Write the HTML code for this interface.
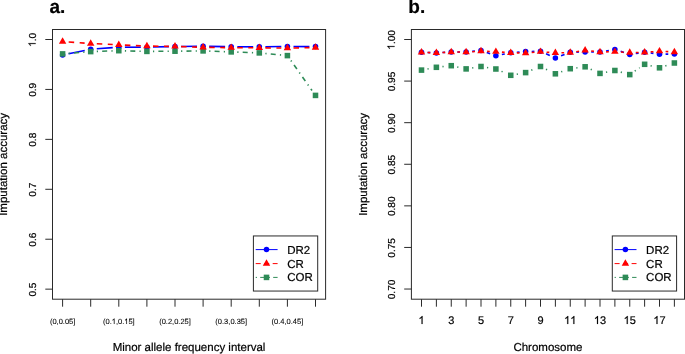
<!DOCTYPE html>
<html><head><meta charset="utf-8"><title>Imputation accuracy</title>
<style>
html,body{margin:0;padding:0;background:#fff;}
body{width:685px;height:354px;overflow:hidden;font-family:"Liberation Sans",sans-serif;}
svg{display:block;}
text{filter:grayscale(1);text-rendering:geometricPrecision;stroke:#000;stroke-width:0.2px;}
.h1{fill-opacity:0;stroke-opacity:0;}
.g1{fill:#000;stroke:#000;stroke-width:0.2px;}
text.sm{stroke-width:0.08px;}
.sm1{stroke-width:0.08px;}
</style></head><body>
<svg width="685" height="354" viewBox="0 0 685 354">
<rect width="685" height="354" fill="#fff"/>
<text x="49.4" y="12.9" font-size="19" font-weight="bold" font-family="'Liberation Sans', sans-serif">a.</text>
<line x1="68.57" y1="53.77" x2="84.73" y2="50.43" stroke="#0000FF" stroke-width="1.6"/>
<line x1="96.78" y1="48.77" x2="112.72" y2="47.63" stroke="#0000FF" stroke-width="1.6"/>
<line x1="124.9" y1="47.2" x2="140.8" y2="47.2" stroke="#0000FF" stroke-width="1.6"/>
<line x1="153" y1="47.05" x2="168.9" y2="46.65" stroke="#0000FF" stroke-width="1.6"/>
<line x1="181.1" y1="46.43" x2="197" y2="46.27" stroke="#0000FF" stroke-width="1.6"/>
<line x1="209.2" y1="46.33" x2="225.1" y2="46.67" stroke="#0000FF" stroke-width="1.6"/>
<line x1="237.3" y1="46.8" x2="253.2" y2="46.8" stroke="#0000FF" stroke-width="1.6"/>
<line x1="265.4" y1="46.73" x2="281.3" y2="46.57" stroke="#0000FF" stroke-width="1.6"/>
<line x1="293.5" y1="46.52" x2="309.4" y2="46.58" stroke="#0000FF" stroke-width="1.6"/>
<circle cx="62.6" cy="55" r="2.77" fill="#0000FF"/>
<circle cx="90.7" cy="49.2" r="2.77" fill="#0000FF"/>
<circle cx="118.8" cy="47.2" r="2.77" fill="#0000FF"/>
<circle cx="146.9" cy="47.2" r="2.77" fill="#0000FF"/>
<circle cx="175" cy="46.5" r="2.77" fill="#0000FF"/>
<circle cx="203.1" cy="46.2" r="2.77" fill="#0000FF"/>
<circle cx="231.2" cy="46.8" r="2.77" fill="#0000FF"/>
<circle cx="259.3" cy="46.8" r="2.77" fill="#0000FF"/>
<circle cx="287.4" cy="46.5" r="2.77" fill="#0000FF"/>
<circle cx="315.5" cy="46.6" r="2.77" fill="#0000FF"/>
<line x1="68.68" y1="53.4" x2="84.62" y2="52.1" stroke="#2E8B57" stroke-width="1.6" stroke-dasharray="1.2 4.2 5.0 4.2"/>
<line x1="96.8" y1="51.4" x2="112.7" y2="50.9" stroke="#2E8B57" stroke-width="1.6" stroke-dasharray="1.2 4.2 5.0 4.2"/>
<line x1="124.9" y1="50.85" x2="140.8" y2="51.25" stroke="#2E8B57" stroke-width="1.6" stroke-dasharray="1.2 4.2 5.0 4.2"/>
<line x1="153" y1="51.36" x2="168.9" y2="51.24" stroke="#2E8B57" stroke-width="1.6" stroke-dasharray="1.2 4.2 5.0 4.2"/>
<line x1="181.1" y1="51.13" x2="197" y2="50.97" stroke="#2E8B57" stroke-width="1.6" stroke-dasharray="1.2 4.2 5.0 4.2"/>
<line x1="209.2" y1="51.12" x2="225.1" y2="51.68" stroke="#2E8B57" stroke-width="1.6" stroke-dasharray="1.2 4.2 5.0 4.2"/>
<line x1="237.3" y1="52.12" x2="253.2" y2="52.68" stroke="#2E8B57" stroke-width="1.6" stroke-dasharray="1.2 4.2 5.0 4.2"/>
<line x1="265.37" y1="53.48" x2="281.33" y2="55.02" stroke="#2E8B57" stroke-width="1.6" stroke-dasharray="1.2 4.2 5.0 4.2"/>
<line x1="290.92" y1="60.58" x2="311.98" y2="90.42" stroke="#2E8B57" stroke-width="1.6" stroke-dasharray="1.2 4.2 5.0 4.2"/>
<rect x="59.83" y="51.13" width="5.54" height="5.54" fill="#2E8B57"/>
<rect x="87.93" y="48.83" width="5.54" height="5.54" fill="#2E8B57"/>
<rect x="116.03" y="47.93" width="5.54" height="5.54" fill="#2E8B57"/>
<rect x="144.13" y="48.63" width="5.54" height="5.54" fill="#2E8B57"/>
<rect x="172.23" y="48.43" width="5.54" height="5.54" fill="#2E8B57"/>
<rect x="200.33" y="48.13" width="5.54" height="5.54" fill="#2E8B57"/>
<rect x="228.43" y="49.13" width="5.54" height="5.54" fill="#2E8B57"/>
<rect x="256.53" y="50.13" width="5.54" height="5.54" fill="#2E8B57"/>
<rect x="284.63" y="52.83" width="5.54" height="5.54" fill="#2E8B57"/>
<rect x="312.73" y="92.63" width="5.54" height="5.54" fill="#2E8B57"/>
<line x1="68.68" y1="41.98" x2="84.62" y2="43.12" stroke="#FF0000" stroke-width="1.6" stroke-dasharray="5.5 5.5"/>
<line x1="96.79" y1="43.82" x2="112.71" y2="44.53" stroke="#FF0000" stroke-width="1.6" stroke-dasharray="5.5 5.5"/>
<line x1="124.89" y1="45.08" x2="140.81" y2="45.82" stroke="#FF0000" stroke-width="1.6" stroke-dasharray="5.5 5.5"/>
<line x1="153" y1="46.17" x2="168.9" y2="46.33" stroke="#FF0000" stroke-width="1.6" stroke-dasharray="5.5 5.5"/>
<line x1="181.1" y1="46.6" x2="197" y2="47.1" stroke="#FF0000" stroke-width="1.6" stroke-dasharray="5.5 5.5"/>
<line x1="209.2" y1="47.39" x2="225.1" y2="47.61" stroke="#FF0000" stroke-width="1.6" stroke-dasharray="5.5 5.5"/>
<line x1="237.3" y1="47.72" x2="253.2" y2="47.78" stroke="#FF0000" stroke-width="1.6" stroke-dasharray="5.5 5.5"/>
<line x1="265.4" y1="47.87" x2="281.3" y2="48.03" stroke="#FF0000" stroke-width="1.6" stroke-dasharray="5.5 5.5"/>
<line x1="293.5" y1="47.97" x2="309.4" y2="47.63" stroke="#FF0000" stroke-width="1.6" stroke-dasharray="5.5 5.5"/>
<polygon points="62.6,37.24 66.33,43.7 58.87,43.7" fill="#FF0000"/>
<polygon points="90.7,39.24 94.43,45.7 86.97,45.7" fill="#FF0000"/>
<polygon points="118.8,40.49 122.53,46.95 115.07,46.95" fill="#FF0000"/>
<polygon points="146.9,41.79 150.63,48.25 143.17,48.25" fill="#FF0000"/>
<polygon points="175,42.09 178.73,48.55 171.27,48.55" fill="#FF0000"/>
<polygon points="203.1,42.99 206.83,49.45 199.37,49.45" fill="#FF0000"/>
<polygon points="231.2,43.39 234.93,49.85 227.47,49.85" fill="#FF0000"/>
<polygon points="259.3,43.49 263.03,49.95 255.57,49.95" fill="#FF0000"/>
<polygon points="287.4,43.79 291.13,50.25 283.67,50.25" fill="#FF0000"/>
<polygon points="315.5,43.19 319.23,49.65 311.77,49.65" fill="#FF0000"/>
<rect x="52.5" y="29.5" width="273.1" height="269.7" fill="none" stroke="#2a2a2a" stroke-width="1"/>
<line x1="45.3" y1="39.5" x2="52.5" y2="39.5" stroke="#2a2a2a" stroke-width="1"/>
<g transform="translate(35.6,39.9) rotate(-90)"><text x="-7.02" y="0" font-size="10.1" font-family="'Liberation Sans', sans-serif"><tspan class="h1">0</tspan>.0</text>
<path class="g1" d="M-3.26,0 L-4.15,0 L-4.15,-5.66 Q-4.47,-5.35 -4.99,-5.05 Q-5.51,-4.74 -5.93,-4.58 L-5.93,-5.44 Q-5.17,-5.8 -4.63,-6.28 Q-4.1,-6.75 -3.86,-7.23 L-3.26,-7.23Z"/>
</g>
<line x1="45.3" y1="89.43" x2="52.5" y2="89.43" stroke="#2a2a2a" stroke-width="1"/>
<g transform="translate(35.6,89.83) rotate(-90)"><text x="-7.02" y="0" font-size="10.1" font-family="'Liberation Sans', sans-serif">0.9</text>
</g>
<line x1="45.3" y1="139.36" x2="52.5" y2="139.36" stroke="#2a2a2a" stroke-width="1"/>
<g transform="translate(35.6,139.76) rotate(-90)"><text x="-7.02" y="0" font-size="10.1" font-family="'Liberation Sans', sans-serif">0.8</text>
</g>
<line x1="45.3" y1="189.29" x2="52.5" y2="189.29" stroke="#2a2a2a" stroke-width="1"/>
<g transform="translate(35.6,189.69) rotate(-90)"><text x="-7.02" y="0" font-size="10.1" font-family="'Liberation Sans', sans-serif">0.7</text>
</g>
<line x1="45.3" y1="239.22" x2="52.5" y2="239.22" stroke="#2a2a2a" stroke-width="1"/>
<g transform="translate(35.6,239.62) rotate(-90)"><text x="-7.02" y="0" font-size="10.1" font-family="'Liberation Sans', sans-serif">0.6</text>
</g>
<line x1="45.3" y1="289.15" x2="52.5" y2="289.15" stroke="#2a2a2a" stroke-width="1"/>
<g transform="translate(35.6,289.55) rotate(-90)"><text x="-7.02" y="0" font-size="10.1" font-family="'Liberation Sans', sans-serif">0.5</text>
</g>
<line x1="62.6" y1="299.2" x2="62.6" y2="306.7" stroke="#2a2a2a" stroke-width="1"/>
<line x1="90.7" y1="299.2" x2="90.7" y2="306.7" stroke="#2a2a2a" stroke-width="1"/>
<line x1="118.8" y1="299.2" x2="118.8" y2="306.7" stroke="#2a2a2a" stroke-width="1"/>
<line x1="146.9" y1="299.2" x2="146.9" y2="306.7" stroke="#2a2a2a" stroke-width="1"/>
<line x1="175" y1="299.2" x2="175" y2="306.7" stroke="#2a2a2a" stroke-width="1"/>
<line x1="203.1" y1="299.2" x2="203.1" y2="306.7" stroke="#2a2a2a" stroke-width="1"/>
<line x1="231.2" y1="299.2" x2="231.2" y2="306.7" stroke="#2a2a2a" stroke-width="1"/>
<line x1="259.3" y1="299.2" x2="259.3" y2="306.7" stroke="#2a2a2a" stroke-width="1"/>
<line x1="287.4" y1="299.2" x2="287.4" y2="306.7" stroke="#2a2a2a" stroke-width="1"/>
<line x1="315.5" y1="299.2" x2="315.5" y2="306.7" stroke="#2a2a2a" stroke-width="1"/>
<g transform="translate(62.6,323.9)"><text class="sm" x="-12.72" y="0" font-size="7.5" font-family="'Liberation Sans', sans-serif">(0,0.05]</text>
</g>
<g transform="translate(118.8,323.9)"><text class="sm" x="-15.84" y="0" font-size="7.5" font-family="'Liberation Sans', sans-serif">(0.<tspan class="h1">0</tspan>,0.<tspan class="h1">0</tspan>5]</text>
<path class="g1 sm1" d="M-4.3,0 L-4.96,0 L-4.96,-4.2 Q-5.19,-3.97 -5.58,-3.75 Q-5.97,-3.52 -6.28,-3.4 L-6.28,-4.04 Q-5.71,-4.31 -5.32,-4.66 Q-4.92,-5.01 -4.75,-5.37 L-4.3,-5.37Z"/>
<path class="g1 sm1" d="M8.21,0 L7.55,0 L7.55,-4.2 Q7.32,-3.97 6.93,-3.75 Q6.54,-3.52 6.23,-3.4 L6.23,-4.04 Q6.8,-4.31 7.19,-4.66 Q7.59,-5.01 7.76,-5.37 L8.21,-5.37Z"/>
</g>
<g transform="translate(175,323.9)"><text class="sm" x="-15.84" y="0" font-size="7.5" font-family="'Liberation Sans', sans-serif">(0.2,0.25]</text>
</g>
<g transform="translate(231.2,323.9)"><text class="sm" x="-15.84" y="0" font-size="7.5" font-family="'Liberation Sans', sans-serif">(0.3,0.35]</text>
</g>
<g transform="translate(287.4,323.9)"><text class="sm" x="-15.84" y="0" font-size="7.5" font-family="'Liberation Sans', sans-serif">(0.4,0.45]</text>
</g>
<text x="189.05" y="351.2" text-anchor="middle" font-size="11.5" font-family="'Liberation Sans', sans-serif">Minor allele frequency interval</text>
<text x="0" y="0" transform="translate(7.4,164.4) rotate(-90)" text-anchor="middle" font-size="11.5" font-family="'Liberation Sans', sans-serif">Imputation accuracy</text>
<rect x="253.4" y="235.95" width="64.3" height="55.1" fill="#fff" stroke="#2a2a2a" stroke-width="1"/>
<line x1="255.7" y1="249.6" x2="277.6" y2="249.6" stroke="#0000FF" stroke-width="1"/>
<circle cx="266.5" cy="249.6" r="2.77" fill="#0000FF"/>
<text x="287.2" y="253.7" font-size="11.5" font-family="'Liberation Sans', sans-serif">DR2</text>
<line x1="255.7" y1="263.6" x2="277.6" y2="263.6" stroke="#FF0000" stroke-width="1" stroke-dasharray="5 3.5"/>
<polygon points="266.5,259.29 270.23,265.75 262.77,265.75" fill="#FF0000"/>
<text x="287.2" y="267.7" font-size="11.5" font-family="'Liberation Sans', sans-serif">CR</text>
<line x1="255.7" y1="277.4" x2="277.6" y2="277.4" stroke="#2E8B57" stroke-width="1" stroke-dasharray="1.3 3.2 5.3 3.2"/>
<rect x="263.73" y="274.63" width="5.54" height="5.54" fill="#2E8B57"/>
<text x="287.2" y="281.1" font-size="11.5" font-family="'Liberation Sans', sans-serif">COR</text>
<text x="408.3" y="12.9" font-size="19" font-weight="bold" font-family="'Liberation Sans', sans-serif">b.</text>
<line x1="427.59" y1="52.53" x2="430.28" y2="52.67" stroke="#0000FF" stroke-width="1.6"/>
<line x1="442.46" y1="52.55" x2="445.17" y2="52.35" stroke="#0000FF" stroke-width="1.6"/>
<line x1="457.35" y1="51.94" x2="460.03" y2="51.96" stroke="#0000FF" stroke-width="1.6"/>
<line x1="472.19" y1="51.39" x2="474.93" y2="51.11" stroke="#0000FF" stroke-width="1.6"/>
<line x1="486.75" y1="52.55" x2="490.13" y2="53.75" stroke="#0000FF" stroke-width="1.6"/>
<line x1="501.85" y1="54.59" x2="504.77" y2="54.01" stroke="#0000FF" stroke-width="1.6"/>
<line x1="516.83" y1="52.31" x2="519.54" y2="52.09" stroke="#0000FF" stroke-width="1.6"/>
<line x1="531.72" y1="51.48" x2="534.4" y2="51.42" stroke="#0000FF" stroke-width="1.6"/>
<line x1="546.08" y1="53.77" x2="549.8" y2="55.43" stroke="#0000FF" stroke-width="1.6"/>
<line x1="561.07" y1="55.72" x2="564.55" y2="54.38" stroke="#0000FF" stroke-width="1.6"/>
<line x1="576.35" y1="52.08" x2="579.03" y2="52.02" stroke="#0000FF" stroke-width="1.6"/>
<line x1="591.22" y1="51.98" x2="593.9" y2="52.02" stroke="#0000FF" stroke-width="1.6"/>
<line x1="606" y1="51.01" x2="608.87" y2="50.49" stroke="#0000FF" stroke-width="1.6"/>
<line x1="620.66" y1="51.34" x2="623.97" y2="52.46" stroke="#0000FF" stroke-width="1.6"/>
<line x1="635.78" y1="53.51" x2="638.59" y2="53.09" stroke="#0000FF" stroke-width="1.6"/>
<line x1="650.67" y1="53.01" x2="653.45" y2="53.39" stroke="#0000FF" stroke-width="1.6"/>
<line x1="665.6" y1="54.12" x2="668.28" y2="54.08" stroke="#0000FF" stroke-width="1.6"/>
<circle cx="421.5" cy="52.2" r="2.77" fill="#0000FF"/>
<circle cx="436.38" cy="53" r="2.77" fill="#0000FF"/>
<circle cx="451.25" cy="51.9" r="2.77" fill="#0000FF"/>
<circle cx="466.12" cy="52" r="2.77" fill="#0000FF"/>
<circle cx="481" cy="50.5" r="2.77" fill="#0000FF"/>
<circle cx="495.88" cy="55.8" r="2.77" fill="#0000FF"/>
<circle cx="510.75" cy="52.8" r="2.77" fill="#0000FF"/>
<circle cx="525.62" cy="51.6" r="2.77" fill="#0000FF"/>
<circle cx="540.5" cy="51.3" r="2.77" fill="#0000FF"/>
<circle cx="555.38" cy="57.9" r="2.77" fill="#0000FF"/>
<circle cx="570.25" cy="52.2" r="2.77" fill="#0000FF"/>
<circle cx="585.12" cy="51.9" r="2.77" fill="#0000FF"/>
<circle cx="600" cy="52.1" r="2.77" fill="#0000FF"/>
<circle cx="614.88" cy="49.4" r="2.77" fill="#0000FF"/>
<circle cx="629.75" cy="54.4" r="2.77" fill="#0000FF"/>
<circle cx="644.62" cy="52.2" r="2.77" fill="#0000FF"/>
<circle cx="659.5" cy="54.2" r="2.77" fill="#0000FF"/>
<circle cx="674.38" cy="54" r="2.77" fill="#0000FF"/>
<line x1="427.49" y1="68.97" x2="430.38" y2="68.43" stroke="#2E8B57" stroke-width="1.6" stroke-dasharray="1.2 4.2 5.0 4.2"/>
<line x1="442.44" y1="66.65" x2="445.18" y2="66.35" stroke="#2E8B57" stroke-width="1.6" stroke-dasharray="1.2 4.2 5.0 4.2"/>
<line x1="457.21" y1="66.98" x2="460.16" y2="67.62" stroke="#2E8B57" stroke-width="1.6" stroke-dasharray="1.2 4.2 5.0 4.2"/>
<line x1="472.15" y1="67.93" x2="474.98" y2="67.47" stroke="#2E8B57" stroke-width="1.6" stroke-dasharray="1.2 4.2 5.0 4.2"/>
<line x1="487.02" y1="67.51" x2="489.86" y2="67.99" stroke="#2E8B57" stroke-width="1.6" stroke-dasharray="1.2 4.2 5.0 4.2"/>
<line x1="501.49" y1="71.38" x2="505.13" y2="72.92" stroke="#2E8B57" stroke-width="1.6" stroke-dasharray="1.2 4.2 5.0 4.2"/>
<line x1="516.75" y1="74.21" x2="519.62" y2="73.69" stroke="#2E8B57" stroke-width="1.6" stroke-dasharray="1.2 4.2 5.0 4.2"/>
<line x1="531.27" y1="70.29" x2="534.86" y2="68.81" stroke="#2E8B57" stroke-width="1.6" stroke-dasharray="1.2 4.2 5.0 4.2"/>
<line x1="545.98" y1="69.19" x2="549.9" y2="71.11" stroke="#2E8B57" stroke-width="1.6" stroke-dasharray="1.2 4.2 5.0 4.2"/>
<line x1="561.15" y1="71.82" x2="564.48" y2="70.68" stroke="#2E8B57" stroke-width="1.6" stroke-dasharray="1.2 4.2 5.0 4.2"/>
<line x1="576.3" y1="67.93" x2="579.07" y2="67.57" stroke="#2E8B57" stroke-width="1.6" stroke-dasharray="1.2 4.2 5.0 4.2"/>
<line x1="590.7" y1="69.27" x2="594.42" y2="70.93" stroke="#2E8B57" stroke-width="1.6" stroke-dasharray="1.2 4.2 5.0 4.2"/>
<line x1="605.99" y1="72.23" x2="608.89" y2="71.67" stroke="#2E8B57" stroke-width="1.6" stroke-dasharray="1.2 4.2 5.0 4.2"/>
<line x1="620.76" y1="72.12" x2="623.87" y2="72.98" stroke="#2E8B57" stroke-width="1.6" stroke-dasharray="1.2 4.2 5.0 4.2"/>
<line x1="634.77" y1="71.13" x2="639.61" y2="67.77" stroke="#2E8B57" stroke-width="1.6" stroke-dasharray="1.2 4.2 5.0 4.2"/>
<line x1="650.56" y1="65.7" x2="653.56" y2="66.4" stroke="#2E8B57" stroke-width="1.6" stroke-dasharray="1.2 4.2 5.0 4.2"/>
<line x1="665.31" y1="65.93" x2="668.57" y2="64.87" stroke="#2E8B57" stroke-width="1.6" stroke-dasharray="1.2 4.2 5.0 4.2"/>
<rect x="418.73" y="67.33" width="5.54" height="5.54" fill="#2E8B57"/>
<rect x="433.61" y="64.53" width="5.54" height="5.54" fill="#2E8B57"/>
<rect x="448.48" y="62.93" width="5.54" height="5.54" fill="#2E8B57"/>
<rect x="463.36" y="66.13" width="5.54" height="5.54" fill="#2E8B57"/>
<rect x="478.23" y="63.73" width="5.54" height="5.54" fill="#2E8B57"/>
<rect x="493.11" y="66.23" width="5.54" height="5.54" fill="#2E8B57"/>
<rect x="507.98" y="72.53" width="5.54" height="5.54" fill="#2E8B57"/>
<rect x="522.86" y="69.83" width="5.54" height="5.54" fill="#2E8B57"/>
<rect x="537.73" y="63.73" width="5.54" height="5.54" fill="#2E8B57"/>
<rect x="552.61" y="71.03" width="5.54" height="5.54" fill="#2E8B57"/>
<rect x="567.48" y="65.93" width="5.54" height="5.54" fill="#2E8B57"/>
<rect x="582.36" y="64.03" width="5.54" height="5.54" fill="#2E8B57"/>
<rect x="597.23" y="70.63" width="5.54" height="5.54" fill="#2E8B57"/>
<rect x="612.11" y="67.73" width="5.54" height="5.54" fill="#2E8B57"/>
<rect x="626.98" y="71.83" width="5.54" height="5.54" fill="#2E8B57"/>
<rect x="641.86" y="61.53" width="5.54" height="5.54" fill="#2E8B57"/>
<rect x="656.73" y="65.03" width="5.54" height="5.54" fill="#2E8B57"/>
<rect x="671.61" y="60.23" width="5.54" height="5.54" fill="#2E8B57"/>
<line x1="427.6" y1="52.5" x2="430.28" y2="52.6" stroke="#FF0000" stroke-width="1.6" stroke-dasharray="5.5 5.5"/>
<line x1="442.47" y1="52.47" x2="445.16" y2="52.33" stroke="#FF0000" stroke-width="1.6" stroke-dasharray="5.5 5.5"/>
<line x1="457.35" y1="52.04" x2="460.03" y2="52.06" stroke="#FF0000" stroke-width="1.6" stroke-dasharray="5.5 5.5"/>
<line x1="472.21" y1="51.69" x2="474.91" y2="51.51" stroke="#FF0000" stroke-width="1.6" stroke-dasharray="5.5 5.5"/>
<line x1="487.1" y1="51.35" x2="489.78" y2="51.45" stroke="#FF0000" stroke-width="1.6" stroke-dasharray="5.5 5.5"/>
<line x1="501.96" y1="52.15" x2="504.67" y2="52.35" stroke="#FF0000" stroke-width="1.6" stroke-dasharray="5.5 5.5"/>
<line x1="516.85" y1="52.92" x2="519.53" y2="52.98" stroke="#FF0000" stroke-width="1.6" stroke-dasharray="5.5 5.5"/>
<line x1="531.7" y1="52.53" x2="534.43" y2="52.27" stroke="#FF0000" stroke-width="1.6" stroke-dasharray="5.5 5.5"/>
<line x1="546.58" y1="52.19" x2="549.29" y2="52.41" stroke="#FF0000" stroke-width="1.6" stroke-dasharray="5.5 5.5"/>
<line x1="561.47" y1="52.78" x2="564.15" y2="52.72" stroke="#FF0000" stroke-width="1.6" stroke-dasharray="5.5 5.5"/>
<line x1="576.28" y1="51.67" x2="579.1" y2="51.23" stroke="#FF0000" stroke-width="1.6" stroke-dasharray="5.5 5.5"/>
<line x1="591.19" y1="50.99" x2="593.94" y2="51.31" stroke="#FF0000" stroke-width="1.6" stroke-dasharray="5.5 5.5"/>
<line x1="606.1" y1="51.88" x2="608.78" y2="51.82" stroke="#FF0000" stroke-width="1.6" stroke-dasharray="5.5 5.5"/>
<line x1="620.96" y1="52.07" x2="623.66" y2="52.23" stroke="#FF0000" stroke-width="1.6" stroke-dasharray="5.5 5.5"/>
<line x1="635.85" y1="52.52" x2="638.53" y2="52.48" stroke="#FF0000" stroke-width="1.6" stroke-dasharray="5.5 5.5"/>
<line x1="650.71" y1="51.91" x2="653.42" y2="51.69" stroke="#FF0000" stroke-width="1.6" stroke-dasharray="5.5 5.5"/>
<line x1="665.59" y1="51.53" x2="668.28" y2="51.67" stroke="#FF0000" stroke-width="1.6" stroke-dasharray="5.5 5.5"/>
<polygon points="421.5,47.99 425.23,54.45 417.77,54.45" fill="#FF0000"/>
<polygon points="436.38,48.49 440.11,54.95 432.64,54.95" fill="#FF0000"/>
<polygon points="451.25,47.69 454.98,54.15 447.52,54.15" fill="#FF0000"/>
<polygon points="466.12,47.79 469.86,54.25 462.39,54.25" fill="#FF0000"/>
<polygon points="481,46.79 484.73,53.25 477.27,53.25" fill="#FF0000"/>
<polygon points="495.88,47.39 499.61,53.85 492.14,53.85" fill="#FF0000"/>
<polygon points="510.75,48.49 514.48,54.95 507.02,54.95" fill="#FF0000"/>
<polygon points="525.62,48.79 529.36,55.25 521.89,55.25" fill="#FF0000"/>
<polygon points="540.5,47.39 544.23,53.85 536.77,53.85" fill="#FF0000"/>
<polygon points="555.38,48.59 559.11,55.05 551.64,55.05" fill="#FF0000"/>
<polygon points="570.25,48.29 573.98,54.75 566.52,54.75" fill="#FF0000"/>
<polygon points="585.12,45.99 588.86,52.45 581.39,52.45" fill="#FF0000"/>
<polygon points="600,47.69 603.73,54.15 596.27,54.15" fill="#FF0000"/>
<polygon points="614.88,47.39 618.61,53.85 611.14,53.85" fill="#FF0000"/>
<polygon points="629.75,48.29 633.48,54.75 626.02,54.75" fill="#FF0000"/>
<polygon points="644.62,48.09 648.36,54.55 640.89,54.55" fill="#FF0000"/>
<polygon points="659.5,46.89 663.23,53.35 655.77,53.35" fill="#FF0000"/>
<polygon points="674.38,47.69 678.11,54.15 670.64,54.15" fill="#FF0000"/>
<rect x="411.4" y="29.5" width="273.1" height="269.7" fill="none" stroke="#2a2a2a" stroke-width="1"/>
<line x1="404.2" y1="39.5" x2="411.4" y2="39.5" stroke="#2a2a2a" stroke-width="1"/>
<g transform="translate(394.5,39.9) rotate(-90)"><text x="-9.83" y="0" font-size="10.1" font-family="'Liberation Sans', sans-serif"><tspan class="h1">0</tspan>.00</text>
<path class="g1" d="M-6.07,0 L-6.95,0 L-6.95,-5.66 Q-7.27,-5.35 -7.79,-5.05 Q-8.31,-4.74 -8.74,-4.58 L-8.74,-5.44 Q-7.97,-5.8 -7.44,-6.28 Q-6.91,-6.75 -6.67,-7.23 L-6.07,-7.23Z"/>
</g>
<line x1="404.2" y1="81.09" x2="411.4" y2="81.09" stroke="#2a2a2a" stroke-width="1"/>
<g transform="translate(394.5,81.49) rotate(-90)"><text x="-9.83" y="0" font-size="10.1" font-family="'Liberation Sans', sans-serif">0.95</text>
</g>
<line x1="404.2" y1="122.68" x2="411.4" y2="122.68" stroke="#2a2a2a" stroke-width="1"/>
<g transform="translate(394.5,123.08) rotate(-90)"><text x="-9.83" y="0" font-size="10.1" font-family="'Liberation Sans', sans-serif">0.90</text>
</g>
<line x1="404.2" y1="164.27" x2="411.4" y2="164.27" stroke="#2a2a2a" stroke-width="1"/>
<g transform="translate(394.5,164.67) rotate(-90)"><text x="-9.83" y="0" font-size="10.1" font-family="'Liberation Sans', sans-serif">0.85</text>
</g>
<line x1="404.2" y1="205.86" x2="411.4" y2="205.86" stroke="#2a2a2a" stroke-width="1"/>
<g transform="translate(394.5,206.26) rotate(-90)"><text x="-9.83" y="0" font-size="10.1" font-family="'Liberation Sans', sans-serif">0.80</text>
</g>
<line x1="404.2" y1="247.45" x2="411.4" y2="247.45" stroke="#2a2a2a" stroke-width="1"/>
<g transform="translate(394.5,247.85) rotate(-90)"><text x="-9.83" y="0" font-size="10.1" font-family="'Liberation Sans', sans-serif">0.75</text>
</g>
<line x1="404.2" y1="289.04" x2="411.4" y2="289.04" stroke="#2a2a2a" stroke-width="1"/>
<g transform="translate(394.5,289.44) rotate(-90)"><text x="-9.83" y="0" font-size="10.1" font-family="'Liberation Sans', sans-serif">0.70</text>
</g>
<line x1="421.5" y1="299.2" x2="421.5" y2="306.7" stroke="#2a2a2a" stroke-width="1"/>
<line x1="436.38" y1="299.2" x2="436.38" y2="306.7" stroke="#2a2a2a" stroke-width="1"/>
<line x1="451.25" y1="299.2" x2="451.25" y2="306.7" stroke="#2a2a2a" stroke-width="1"/>
<line x1="466.12" y1="299.2" x2="466.12" y2="306.7" stroke="#2a2a2a" stroke-width="1"/>
<line x1="481" y1="299.2" x2="481" y2="306.7" stroke="#2a2a2a" stroke-width="1"/>
<line x1="495.88" y1="299.2" x2="495.88" y2="306.7" stroke="#2a2a2a" stroke-width="1"/>
<line x1="510.75" y1="299.2" x2="510.75" y2="306.7" stroke="#2a2a2a" stroke-width="1"/>
<line x1="525.62" y1="299.2" x2="525.62" y2="306.7" stroke="#2a2a2a" stroke-width="1"/>
<line x1="540.5" y1="299.2" x2="540.5" y2="306.7" stroke="#2a2a2a" stroke-width="1"/>
<line x1="555.38" y1="299.2" x2="555.38" y2="306.7" stroke="#2a2a2a" stroke-width="1"/>
<line x1="570.25" y1="299.2" x2="570.25" y2="306.7" stroke="#2a2a2a" stroke-width="1"/>
<line x1="585.12" y1="299.2" x2="585.12" y2="306.7" stroke="#2a2a2a" stroke-width="1"/>
<line x1="600" y1="299.2" x2="600" y2="306.7" stroke="#2a2a2a" stroke-width="1"/>
<line x1="614.88" y1="299.2" x2="614.88" y2="306.7" stroke="#2a2a2a" stroke-width="1"/>
<line x1="629.75" y1="299.2" x2="629.75" y2="306.7" stroke="#2a2a2a" stroke-width="1"/>
<line x1="644.62" y1="299.2" x2="644.62" y2="306.7" stroke="#2a2a2a" stroke-width="1"/>
<line x1="659.5" y1="299.2" x2="659.5" y2="306.7" stroke="#2a2a2a" stroke-width="1"/>
<line x1="674.38" y1="299.2" x2="674.38" y2="306.7" stroke="#2a2a2a" stroke-width="1"/>
<g transform="translate(421.5,323.9)"><text x="-3.06" y="0" font-size="11" font-family="'Liberation Sans', sans-serif"><tspan class="h1">0</tspan></text>
<path class="g1" d="M1.04,0 L0.07,0 L0.07,-6.16 Q-0.28,-5.83 -0.84,-5.49 Q-1.41,-5.16 -1.87,-4.99 L-1.87,-5.92 Q-1.04,-6.32 -0.46,-6.83 Q0.12,-7.35 0.38,-7.87 L1.04,-7.87Z"/>
</g>
<g transform="translate(451.25,323.9)"><text x="-3.06" y="0" font-size="11" font-family="'Liberation Sans', sans-serif">3</text>
</g>
<g transform="translate(481,323.9)"><text x="-3.06" y="0" font-size="11" font-family="'Liberation Sans', sans-serif">5</text>
</g>
<g transform="translate(510.75,323.9)"><text x="-3.06" y="0" font-size="11" font-family="'Liberation Sans', sans-serif">7</text>
</g>
<g transform="translate(540.5,323.9)"><text x="-3.06" y="0" font-size="11" font-family="'Liberation Sans', sans-serif">9</text>
</g>
<g transform="translate(570.25,323.9)"><text x="-6.12" y="0" font-size="11" font-family="'Liberation Sans', sans-serif"><tspan class="h1">0</tspan><tspan class="h1">0</tspan></text>
<path class="g1" d="M-2.02,0 L-2.99,0 L-2.99,-6.16 Q-3.34,-5.83 -3.9,-5.49 Q-4.47,-5.16 -4.93,-4.99 L-4.93,-5.92 Q-4.1,-6.32 -3.52,-6.83 Q-2.94,-7.35 -2.68,-7.87 L-2.02,-7.87Z"/>
<path class="g1" d="M4.1,0 L3.13,0 L3.13,-6.16 Q2.78,-5.83 2.22,-5.49 Q1.65,-5.16 1.19,-4.99 L1.19,-5.92 Q2.02,-6.32 2.6,-6.83 Q3.18,-7.35 3.44,-7.87 L4.1,-7.87Z"/>
</g>
<g transform="translate(600,323.9)"><text x="-6.12" y="0" font-size="11" font-family="'Liberation Sans', sans-serif"><tspan class="h1">0</tspan>3</text>
<path class="g1" d="M-2.02,0 L-2.99,0 L-2.99,-6.16 Q-3.34,-5.83 -3.9,-5.49 Q-4.47,-5.16 -4.93,-4.99 L-4.93,-5.92 Q-4.1,-6.32 -3.52,-6.83 Q-2.94,-7.35 -2.68,-7.87 L-2.02,-7.87Z"/>
</g>
<g transform="translate(629.75,323.9)"><text x="-6.12" y="0" font-size="11" font-family="'Liberation Sans', sans-serif"><tspan class="h1">0</tspan>5</text>
<path class="g1" d="M-2.02,0 L-2.99,0 L-2.99,-6.16 Q-3.34,-5.83 -3.9,-5.49 Q-4.47,-5.16 -4.93,-4.99 L-4.93,-5.92 Q-4.1,-6.32 -3.52,-6.83 Q-2.94,-7.35 -2.68,-7.87 L-2.02,-7.87Z"/>
</g>
<g transform="translate(659.5,323.9)"><text x="-6.12" y="0" font-size="11" font-family="'Liberation Sans', sans-serif"><tspan class="h1">0</tspan>7</text>
<path class="g1" d="M-2.02,0 L-2.99,0 L-2.99,-6.16 Q-3.34,-5.83 -3.9,-5.49 Q-4.47,-5.16 -4.93,-4.99 L-4.93,-5.92 Q-4.1,-6.32 -3.52,-6.83 Q-2.94,-7.35 -2.68,-7.87 L-2.02,-7.87Z"/>
</g>
<text x="547.95" y="351.2" text-anchor="middle" font-size="11.5" font-family="'Liberation Sans', sans-serif">Chromosome</text>
<text x="0" y="0" transform="translate(366.6,164.4) rotate(-90)" text-anchor="middle" font-size="11.5" font-family="'Liberation Sans', sans-serif">Imputation accuracy</text>
<rect x="612.3" y="235.95" width="64.3" height="55.1" fill="#fff" stroke="#2a2a2a" stroke-width="1"/>
<line x1="614.6" y1="249.6" x2="636.5" y2="249.6" stroke="#0000FF" stroke-width="1"/>
<circle cx="625.4" cy="249.6" r="2.77" fill="#0000FF"/>
<text x="646.1" y="253.7" font-size="11.5" font-family="'Liberation Sans', sans-serif">DR2</text>
<line x1="614.6" y1="263.6" x2="636.5" y2="263.6" stroke="#FF0000" stroke-width="1" stroke-dasharray="5 3.5"/>
<polygon points="625.4,259.29 629.13,265.75 621.67,265.75" fill="#FF0000"/>
<text x="646.1" y="267.7" font-size="11.5" font-family="'Liberation Sans', sans-serif">CR</text>
<line x1="614.6" y1="277.4" x2="636.5" y2="277.4" stroke="#2E8B57" stroke-width="1" stroke-dasharray="1.3 3.2 5.3 3.2"/>
<rect x="622.63" y="274.63" width="5.54" height="5.54" fill="#2E8B57"/>
<text x="646.1" y="281.1" font-size="11.5" font-family="'Liberation Sans', sans-serif">COR</text>
</svg>
</body></html>
